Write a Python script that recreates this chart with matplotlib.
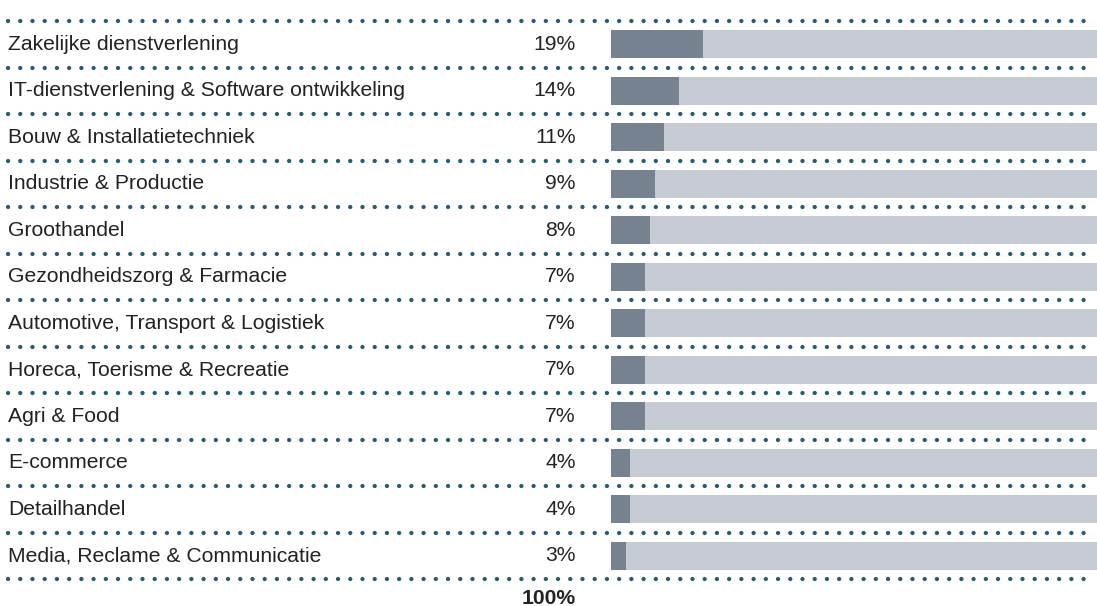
import matplotlib
matplotlib.use("Agg")
import matplotlib.pyplot as plt

categories = [
    "Zakelijke dienstverlening",
    "IT-dienstverlening & Software ontwikkeling",
    "Bouw & Installatietechniek",
    "Industrie & Productie",
    "Groothandel",
    "Gezondheidszorg & Farmacie",
    "Automotive, Transport & Logistiek",
    "Horeca, Toerisme & Recreatie",
    "Agri & Food",
    "E-commerce",
    "Detailhandel",
    "Media, Reclame & Communicatie",
]
values = [19, 14, 11, 9, 8, 7, 7, 7, 7, 4, 4, 3]
value_labels = ["19%", "14%", "11%", "9%", "8%", "7%", "7%", "7%", "7%", "4%", "4%", "3%"]
total_label = "100%"

W, H = 1097, 606
plt.rcParams['lines.scale_dashes'] = False
fig = plt.figure(figsize=(W / 100, H / 100), dpi=100)

row_px = 46.5
first_center = 44.25
y_top = -first_center / row_px
y_bot = (H - first_center) / row_px

font = "Liberation Sans"
txt_color = "#222222"
dot_color = "#285a70"
n = len(categories)

# bars axes
axb = fig.add_axes([611 / W, 0, (W - 611) / W, 1])
axb.set_xlim(0, 100)
axb.set_ylim(y_bot, y_top)
axb.axis("off")
ys = list(range(n))
axb.barh(ys, [100] * n, height=28 / row_px, color="#c7cbd3", left=0)
axb.barh(ys, values, height=28 / row_px, color="#778291", left=0)

# overlay axes in pixel x
ax0 = fig.add_axes([0, 0, 1, 1])
ax0.set_xlim(0, W)
ax0.set_ylim(y_bot, y_top)
ax0.axis("off")

for k in range(n + 1):
    ax0.plot([8, 1089], [k - 0.5, k - 0.5], color=dot_color, lw=3.1,
             linestyle=(0, (0.05, 8.75)), dash_capstyle="round", solid_capstyle="round")

for i, (c, lab) in enumerate(zip(categories, value_labels)):
    ax0.text(8, i + 0.0, c, ha="left", va="center", fontsize=15.2, family=font, color=txt_color)
    ax0.text(576, i + 0.0, lab, ha="right", va="center", fontsize=15.2, family=font, color=txt_color)

ax0.text(576, (604 - first_center) / row_px, total_label, ha="right", va="baseline",
         fontsize=15.2, family=font, fontweight="bold", color=txt_color)

fig.savefig("out.png", dpi=100)
